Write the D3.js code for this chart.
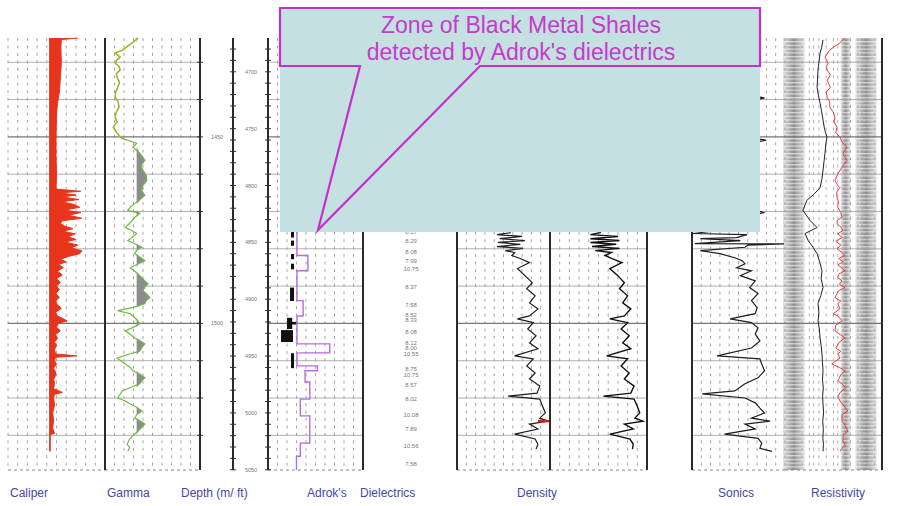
<!DOCTYPE html>
<html>
<head>
<meta charset="utf-8" />
<title>Zone of Black Metal Shales</title>
<style>
  body { margin: 0; background: #fff; }
  svg { display: block; }
  text { font-family: "Liberation Sans", Arial, sans-serif; }
</style>
</head>
<body>
<script src="https://cdnjs.cloudflare.com/ajax/libs/d3/7.8.5/d3.min.js"></script>
<script>
var width = 897,
    height = 506;

// depth range (m)
var depthTop = 1423.5,
    depthBottom = 1539.3;

// caliper (in), [depth m, value]
var bitSize = 8.3;
var caliper = [
  [1423.5, 11.2], [1423.9, 9.5], [1426, 9.45], [1430, 9.5], [1434, 9.4], [1438, 9.3], [1441, 9.1],
  [1444, 9.0], [1450, 8.95], [1455, 8.95], [1460, 9.0], [1464, 8.95], [1464.6, 11.5], [1465.0, 9.4],
  [1465.6, 11.0], [1466.1, 9.6], [1466.8, 11.3], [1467.4, 9.5], [1468.1, 10.8], [1468.9, 11.4],
  [1469.6, 9.8], [1470.3, 11.5], [1471.0, 10.2], [1471.8, 11.6], [1472.5, 9.6], [1473.2, 9.4],
  [1474, 9.9], [1474.6, 10.7], [1475.3, 9.7], [1476, 10.9], [1476.8, 10.2], [1477.5, 11.0],
  [1478.2, 9.9], [1479, 11.2], [1479.8, 10.5], [1480.5, 11.6], [1481.3, 11.4], [1482, 10.3],
  [1482.8, 9.4], [1483.5, 10.0], [1484.3, 9.2], [1485, 9.7], [1486, 9.1], [1487, 9.6], [1488, 9.0],
  [1489, 9.4], [1490, 9.0], [1491, 9.3], [1492, 8.9], [1493, 9.3], [1494, 8.9], [1495, 9.1],
  [1496, 9.5], [1497, 8.9], [1498, 9.1], [1499.3, 10.1], [1500, 9.2], [1501, 9.0], [1502, 9.4],
  [1503, 8.9], [1504, 9.1], [1505, 8.8], [1506, 9.0], [1507, 8.8], [1508.2, 8.9], [1508.7, 11.1],
  [1509.1, 8.9], [1510, 8.8], [1511, 9.0], [1512, 8.7], [1513, 8.9], [1514, 8.9], [1515, 8.7],
  [1516, 8.8], [1517.5, 8.7], [1518.5, 9.6], [1519, 8.8], [1520, 8.7], [1522, 8.8], [1524, 8.6],
  [1526, 8.7], [1528, 8.6], [1529.5, 8.8], [1529.8, 8.35], [1534.3, 8.35]
];

// gamma ray (API)
var gammaCutoff = 50;
var gamma = [
  [1423.5, 52], [1424.8, 43], [1426.7, 28], [1427.5, 16], [1428.6, 24], [1429.4, 19], [1430.2, 16],
  [1431.1, 22], [1432.1, 24], [1433.0, 18], [1434.0, 19], [1435.4, 23], [1436.7, 20], [1438.0, 17],
  [1439.4, 16], [1440.6, 21], [1442.0, 22], [1443.3, 18], [1444.7, 16], [1446.0, 19], [1447.4, 13],
  [1449.0, 19], [1450.4, 27], [1451.7, 50], [1452.8, 44], [1454.4, 55], [1456.3, 63], [1457.7, 57],
  [1459.0, 60], [1460.3, 65], [1461.7, 66], [1463.0, 60], [1464.4, 58], [1465.7, 63], [1467.9, 47],
  [1468.8, 40], [1469.7, 36], [1470.5, 55], [1471.4, 48], [1472.4, 43], [1473.3, 38], [1474.3, 32],
  [1475.1, 42], [1475.9, 50], [1476.8, 44], [1477.8, 36], [1478.7, 48], [1479.6, 58], [1480.4, 50],
  [1481.3, 47], [1482.2, 55], [1483.2, 63], [1484.1, 52], [1485.1, 40], [1486.4, 50], [1487.7, 58],
  [1488.5, 62], [1489.4, 68], [1490.3, 63], [1491.2, 60], [1492.2, 66], [1493.1, 71], [1493.9, 65],
  [1494.7, 63], [1495.7, 45], [1496.6, 20], [1497.4, 40], [1498.5, 47], [1499.3, 52], [1500.1, 55],
  [1501.0, 45], [1502.0, 32], [1503.0, 40], [1503.9, 47], [1504.7, 56], [1505.5, 63], [1506.5, 58],
  [1507.4, 55], [1508.4, 35], [1509.3, 19], [1510.1, 26], [1510.9, 32], [1511.8, 40], [1512.7, 44],
  [1513.7, 56], [1514.6, 63], [1515.4, 58], [1516.2, 55], [1517.2, 40], [1518.1, 27], [1519.0, 24],
  [1520.0, 20], [1520.8, 32], [1521.6, 40], [1522.5, 50], [1523.5, 58], [1524.5, 50], [1525.4, 47],
  [1526.2, 56], [1527.0, 63], [1528.0, 57], [1528.9, 52], [1529.9, 45], [1530.8, 40], [1531.6, 37],
  [1532.4, 35], [1533.3, 39], [1534.3, 36]
];

// depth labels
var metreLabels = [1450, 1500];
var feetLabels = [4700, 4750, 4800, 4850, 4900, 4950, 5000, 5050];

// Adrok dielectric log, step values from each top depth
var adrok = [
  [1470.0, 8.05], [1481.8, 9.2], [1485.9, 8.05], [1493.9, 8.7], [1498.0, 8.05], [1505.5, 11.5],
  [1507.9, 8.05], [1511.4, 10.2], [1512.7, 8.9], [1515.7, 9.4], [1520.3, 8.4], [1524.8, 9.4],
  [1532.1, 8.4], [1535.6, 8.0], [1539.3, 8.0]
];

// black metal shale flags [top, bottom, left value, right value]
var shales = [
  [1475.4, 1477.0, 7.42, 7.74], [1477.8, 1479.2, 7.42, 7.74], [1481.4, 1482.8, 7.42, 7.74],
  [1484.0, 1485.5, 7.42, 7.74], [1490.4, 1494.0, 7.32, 7.74], [1498.5, 1501.5, 7.0, 7.55],
  [1499.6, 1500.3, 7.0, 8.0], [1501.8, 1505.0, 6.37, 7.63], [1508.0, 1512.0, 7.42, 7.74]
];

// dielectric readings
var dielectricDepths = [1475.4, 1477.8, 1480.8, 1483.4, 1485.3, 1490.2, 1495.0, 1497.7, 1499.0, 1502.4,
  1505.2, 1506.6, 1508.2, 1512.2, 1513.8, 1516.5, 1520.3, 1524.6, 1528.3, 1532.9, 1537.7];
var dielectricValues = ["8.17", "8.29", "8.08", "7.99", "10.75", "8.37", "7.58", "8.52", "8.33", "8.08",
  "8.12", "8.00", "10.55", "8.75", "10.75", "8.57", "8.02", "10.08", "7.89", "10.56", "7.58"];

// bulk density (g/cc)
var density = [
  [1473.9, 2.54], [1475.7, 2.52], [1476.2, 2.38], [1476.7, 2.65], [1477.3, 2.41], [1477.8, 2.68],
  [1478.3, 2.39], [1478.8, 2.63], [1479.4, 2.38], [1479.9, 2.66], [1480.5, 2.47], [1481.0, 2.57],
  [1481.8, 2.54], [1482.6, 2.63], [1483.7, 2.73], [1485.3, 2.60], [1487.2, 2.68], [1489.1, 2.76],
  [1490.7, 2.70], [1492.6, 2.79], [1494.5, 2.73], [1496.1, 2.82], [1498.0, 2.73], [1498.8, 2.60],
  [1499.8, 2.77], [1501.5, 2.71], [1503.3, 2.80], [1505.2, 2.73], [1506.8, 2.82], [1508.7, 2.57],
  [1509.5, 2.77], [1511.4, 2.70], [1513.3, 2.79], [1514.9, 2.73], [1516.8, 2.84], [1518.7, 2.81],
  [1519.5, 2.50], [1520.3, 2.84], [1522.2, 2.87], [1524.0, 2.90], [1525.4, 2.84], [1526.2, 2.93],
  [1527.0, 2.73], [1528.3, 2.82], [1529.7, 2.57], [1531.0, 2.79], [1532.4, 2.82], [1533.7, 2.80]
];
var densityFlag = [1526.2, 2.82, 2.96];

// neutron porosity (v/v)
var neutron = [
  [1473.9, 0.26], [1475.7, 0.29], [1476.2, 0.35], [1476.7, 0.18], [1477.3, 0.35], [1477.8, 0.17],
  [1478.3, 0.35], [1478.8, 0.19], [1479.4, 0.34], [1479.9, 0.17], [1480.5, 0.32], [1481.0, 0.22],
  [1481.8, 0.26], [1482.6, 0.22], [1483.7, 0.155], [1485.3, 0.23], [1487.2, 0.18], [1489.1, 0.14],
  [1490.7, 0.17], [1492.6, 0.12], [1494.5, 0.15], [1496.1, 0.10], [1498.0, 0.14], [1498.8, 0.23],
  [1499.8, 0.12], [1501.5, 0.16], [1503.3, 0.11], [1505.2, 0.15], [1506.8, 0.10], [1508.7, 0.25],
  [1509.5, 0.12], [1511.4, 0.16], [1513.3, 0.11], [1514.9, 0.14], [1516.8, 0.08], [1518.7, 0.10],
  [1519.5, 0.27], [1520.3, 0.08], [1522.2, 0.06], [1524.0, 0.045], [1525.4, 0.075], [1526.2, 0.025],
  [1527.0, 0.14], [1528.3, 0.085], [1529.7, 0.23], [1531.0, 0.105], [1532.4, 0.085], [1533.7, 0.09]
];

// sonic (us/ft)
var sonic = [
  [1424.0, 100], [1438.8, 102], [1439.6, 118], [1440.4, 100], [1450.1, 101], [1450.9, 120],
  [1451.7, 102], [1468.9, 100], [1470.3, 117], [1471.6, 98], [1474.3, 97], [1475.9, 41],
  [1476.2, 99], [1477.0, 88], [1477.3, 49], [1477.8, 92], [1478.6, 43], [1478.7, 139], [1479.0, 100],
  [1479.6, 97], [1480.5, 49], [1481.3, 70], [1482.4, 86], [1483.2, 94], [1484.0, 97], [1485.1, 88],
  [1485.9, 104], [1487.2, 92], [1488.6, 108], [1490.4, 102], [1492.0, 111], [1493.9, 104],
  [1495.8, 110], [1497.4, 108], [1498.8, 81], [1499.8, 104], [1501.2, 111], [1502.8, 108],
  [1504.7, 113], [1506.6, 104], [1508.7, 67], [1509.5, 113], [1510.9, 115], [1512.7, 118],
  [1514.6, 111], [1516.2, 97], [1518.1, 86], [1518.9, 51], [1520.0, 97], [1521.3, 108], [1522.7, 113],
  [1524.0, 118], [1525.4, 104], [1526.2, 124], [1527.0, 97], [1528.3, 108], [1529.7, 75],
  [1530.8, 111], [1532.1, 115], [1533.5, 113], [1534.3, 126]
];

// resistivity (ohm.m)
var resDeep = [
  [1424.0, 7.4], [1426, 6.5], [1427.5, 5.6], [1430, 5.0], [1432.1, 4.6], [1434.5, 4.4], [1436.7, 4.2],
  [1439, 4.8], [1441.0, 5.6], [1443, 6.4], [1445.5, 7.4], [1448, 8.6], [1450.1, 10.8], [1452, 9.6],
  [1454.4, 8.9], [1457, 8.0], [1459.0, 7.4], [1461.5, 6.6], [1463.6, 5.6], [1465.5, 3.0], [1467.0, 1.6],
  [1469.7, 1.1], [1472.4, 2.15], [1474.3, 4.2], [1475.9, 1.35], [1477.8, 1.8], [1479.5, 2.8],
  [1481.3, 4.2], [1483.5, 5.4], [1485.9, 6.7], [1488, 6.2], [1490.4, 7.4], [1492.5, 6.0], [1494.7, 4.6],
  [1497, 5.0], [1499.3, 4.6], [1501.5, 5.2], [1503.9, 5.6], [1506, 6.2], [1508.2, 6.7], [1510.5, 7.0],
  [1512.7, 7.4], [1515, 7.0], [1517.3, 7.6], [1519.5, 7.1], [1521.6, 7.4], [1524, 7.8], [1526.2, 7.2],
  [1528.5, 7.6], [1530.8, 7.3], [1532.5, 7.7], [1534.3, 7.4]
];
var resShallow = [
  [1423.5, 59], [1424.8, 37], [1426.7, 14], [1428.6, 9], [1430.2, 12], [1431.2, 10], [1432.1, 11],
  [1433.4, 15], [1434.8, 11], [1436.0, 13], [1436.7, 15], [1438.0, 10], [1439.4, 11], [1440.6, 14],
  [1442.0, 14], [1443.2, 19], [1444.7, 23], [1446.0, 21], [1447.4, 28], [1448.8, 25], [1450.1, 37],
  [1451.4, 45], [1452.8, 72], [1454.4, 49], [1455.5, 60], [1456.3, 72], [1457.6, 52], [1459.0, 37],
  [1460.3, 28], [1461.7, 23], [1463.0, 30], [1463.6, 37], [1464.8, 27], [1466.2, 28], [1467.4, 32],
  [1468.9, 30], [1470.2, 40], [1471.5, 45], [1472.4, 29], [1473.2, 28], [1474.3, 42], [1475.1, 49],
  [1476.0, 30], [1477.0, 45], [1478.0, 25], [1479.0, 40], [1480.0, 28], [1481.0, 45], [1481.8, 59],
  [1482.6, 33], [1483.5, 50], [1484.3, 30], [1485.2, 45], [1485.9, 59], [1486.8, 33], [1487.7, 30],
  [1488.6, 45], [1489.5, 35], [1490.4, 59], [1491.3, 32], [1492.0, 28], [1493.1, 23], [1494.0, 40],
  [1494.7, 30], [1496.1, 37], [1497.4, 19], [1498.0, 30], [1499.3, 45], [1500.5, 25], [1502.0, 23],
  [1503.0, 38], [1503.9, 59], [1505.0, 35], [1506.6, 25], [1507.5, 40], [1508.2, 30], [1509.3, 37],
  [1510.3, 22], [1510.9, 17], [1511.8, 35], [1512.7, 59], [1513.8, 40], [1515.4, 30], [1516.2, 45],
  [1517.3, 65], [1518.3, 40], [1519.5, 30], [1520.8, 37], [1521.8, 50], [1523.5, 78], [1524.5, 45],
  [1526.2, 45], [1527.3, 60], [1528.9, 78], [1530.0, 50], [1531.6, 49], [1532.5, 60], [1533.5, 45],
  [1534.3, 37]
];
var resBands = [[0.16, 1.3], [40, 100], [160, 1200]];

var trackLabels = ["Caliper", "Gamma", "Depth (m/ ft)", "Adrok's", "Dielectrics", "Density", "Sonics", "Resistivity"];
var labelX = [10, 107, 181, 307, 360, 517, 718, 811];

var calloutLines = ["Zone of Black Metal Shales", "detected by Adrok's dielectrics"];

// ---------------------------------------------------------------
var svg = d3.select('body').append('svg')
    .attr('width', width)
    .attr('height', height);

var y = d3.scaleLinear().domain([depthTop, depthBottom]).range([38, 470]);

var calX = d3.scaleLinear().domain([4, 14]).range([8, 105]),
    gamX = d3.scaleLinear().domain([0, 150]).range([105, 200]),
    adrX = d3.scaleLinear().domain([5, 15]).range([268, 363]),
    denX = d3.scaleLinear().domain([1.95, 2.95]).range([457, 550]),
    neuX = d3.scaleLinear().domain([0.6, 0]).range([550, 647]),
    sonX = d3.scaleLinear().domain([40, 140]).range([692, 785]),
    resX = d3.scaleLog().domain([0.2, 2000]).range([785, 882]);

var gridTracks = [calX, gamX, adrX, denX, neuX, sonX];

var defs = svg.append('defs');
var grad = defs.append('linearGradient').attr('id', 'band');
grad.append('stop').attr('offset', '0%').attr('stop-color', '#dedede');
grad.append('stop').attr('offset', '50%').attr('stop-color', '#8e8e8e');
grad.append('stop').attr('offset', '100%').attr('stop-color', '#dedede');
var pat = defs.append('pattern').attr('id', 'ladder')
    .attr('width', 6).attr('height', 3.73).attr('patternUnits', 'userSpaceOnUse');
pat.append('rect').attr('width', 6).attr('height', 1.3).attr('fill', '#fff').attr('opacity', 0.6);

var grid = svg.append('g');

// resistivity shading bands
grid.selectAll('.band')
    .data(resBands)
  .enter().append('g')
    .each(function(b) {
        var g = d3.select(this);
        var x0 = Math.max(resX(b[0]), 783);
        g.append('rect').attr('x', x0).attr('y', y(depthTop))
            .attr('width', resX(b[1]) - x0).attr('height', y(depthBottom) - y(depthTop))
            .attr('fill', 'url(#band)');
        g.append('rect').attr('x', x0).attr('y', y(depthTop))
            .attr('width', resX(b[1]) - x0).attr('height', y(depthBottom) - y(depthTop))
            .attr('fill', 'url(#ladder)');
    });

// vertical dotted grid lines
gridTracks.forEach(function(sc) {
    var r = sc.range();
    d3.range(11).forEach(function(i) {
        var gx = r[0] + i * (r[1] - r[0]) / 10;
        grid.append('line')
            .attr('x1', gx).attr('x2', gx)
            .attr('y1', y(depthTop)).attr('y2', y(depthBottom))
            .attr('stroke', '#9a9a9a').attr('stroke-width', 0.9)
            .attr('stroke-dasharray', '3,4.45');
    });
});
[1, 2, 3, 5, 10, 20, 30, 50, 100, 200, 300, 500, 1000].forEach(function(v) {
    grid.append('line')
        .attr('x1', resX(v)).attr('x2', resX(v))
        .attr('y1', y(depthTop)).attr('y2', y(depthBottom))
        .attr('stroke', '#9a9a9a').attr('stroke-width', 0.8)
        .attr('stroke-dasharray', '3,4.45');
});

// horizontal grid lines every 10 m
var trackSpans = gridTracks.map(function(sc) { return sc.range(); }).concat([resX.range()]);
d3.range(1430, 1540, 10).forEach(function(dm) {
    trackSpans.forEach(function(r) {
        grid.append('line')
            .attr('x1', r[0]).attr('x2', r[1])
            .attr('y1', y(dm)).attr('y2', y(dm))
            .attr('stroke', dm % 50 === 0 ? '#777' : '#a8a8a8')
            .attr('stroke-width', dm % 50 === 0 ? 1.1 : 0.9);
    });
});
// bottom dotted edge
trackSpans.forEach(function(r) {
    grid.append('line')
        .attr('x1', r[0]).attr('x2', r[1])
        .attr('y1', y(depthBottom)).attr('y2', y(depthBottom))
        .attr('stroke', '#888').attr('stroke-dasharray', '3,3');
});

// ---- curves
var marks = svg.append('g');

marks.append('path')
    .datum(caliper)
    .attr('d', d3.area().y(function(d) { return y(d[0]); })
        .x0(calX(bitSize)).x1(function(d) { return calX(d[1]); }))
    .attr('fill', '#e8341c');
marks.append('path')
    .datum(caliper)
    .attr('d', d3.line().y(function(d) { return y(d[0]); }).x(function(d) { return calX(d[1]); }))
    .attr('fill', 'none').attr('stroke', '#e8341c').attr('stroke-width', 1);
marks.append('line')
    .attr('x1', calX(bitSize)).attr('x2', calX(bitSize))
    .attr('y1', y(caliper[0][0])).attr('y2', y(caliper[caliper.length - 1][0]))
    .attr('stroke', '#e8341c').attr('stroke-width', 1.2);

marks.append('path')
    .datum(gamma)
    .attr('d', d3.area().y(function(d) { return y(d[0]); })
        .x0(gamX(gammaCutoff)).x1(function(d) { return gamX(Math.max(gammaCutoff, d[1])); }))
    .attr('fill', '#8c8c8c');
var gammaLine = d3.line().y(function(d) { return y(d[0]); }).x(function(d) { return gamX(d[1]); });
marks.append('path')
    .datum(gamma)
    .attr('d', gammaLine)
    .attr('fill', 'none').attr('stroke', '#72b844').attr('stroke-width', 1.2);
marks.append('path')
    .datum(gamma.filter(function(d) { return d[0] <= 1451; }))
    .attr('d', gammaLine)
    .attr('fill', 'none').attr('stroke', '#a4b526').attr('stroke-width', 1.2);

marks.selectAll('.shale')
    .data(shales)
  .enter().append('rect')
    .attr('x', function(d) { return adrX(d[2]); })
    .attr('y', function(d) { return y(d[0]); })
    .attr('width', function(d) { return adrX(d[3]) - adrX(d[2]); })
    .attr('height', function(d) { return y(d[1]) - y(d[0]); })
    .attr('fill', '#111');
marks.append('path')
    .datum(adrok)
    .attr('d', d3.line().curve(d3.curveStepBefore)
        .y(function(d) { return y(d[0]); }).x(function(d) { return adrX(d[1]); }))
    .attr('fill', 'none').attr('stroke', '#b86ae6').attr('stroke-width', 1.4);

function logLine(data, sc, color, w) {
    marks.append('path')
        .datum(data)
        .attr('d', d3.line().y(function(d) { return y(d[0]); }).x(function(d) { return sc(d[1]); }))
        .attr('fill', 'none').attr('stroke', color).attr('stroke-width', w);
}
logLine(density, denX, '#1e1e1e', 1.2);
logLine(neutron, neuX, '#111', 1.4);
logLine(sonic, sonX, '#1e1e1e', 1.2);
logLine(resDeep, resX, '#222', 1);
logLine(resShallow, resX, '#ee3b3b', 1);

marks.append('line')
    .attr('x1', denX(densityFlag[1])).attr('x2', denX(densityFlag[2]))
    .attr('y1', y(densityFlag[0])).attr('y2', y(densityFlag[0]))
    .attr('stroke', '#d42020').attr('stroke-width', 2.5);

// ---- track borders
var borders = [105, 200, 233, 268, 363, 457, 550, 647, 692, 882];
svg.selectAll('.border')
    .data(borders)
  .enter().append('line')
    .attr('x1', function(d) { return d; }).attr('x2', function(d) { return d; })
    .attr('y1', y(depthTop)).attr('y2', y(depthBottom))
    .attr('stroke', '#2a2a2a').attr('stroke-width', 2);

// depth ticks and labels
var ticks = svg.append('g').attr('stroke', '#333').attr('stroke-width', 1);
d3.range(1430, 1540, 10).forEach(function(dm) {
    ticks.append('line').attr('x1', 197).attr('x2', 203).attr('y1', y(dm)).attr('y2', y(dm));
});
var ftToM = 0.3048;
d3.range(4680, 5060, 10).forEach(function(ft) {
    var yy = y(ft * ftToM);
    if (yy < y(depthTop) || yy > y(depthBottom)) return;
    ticks.append('line').attr('x1', 230).attr('x2', 236).attr('y1', yy).attr('y2', yy);
    ticks.append('line').attr('x1', 265).attr('x2', 271).attr('y1', yy).attr('y2', yy);
});
svg.selectAll('.mlab')
    .data(metreLabels)
  .enter().append('text')
    .attr('x', 217).attr('y', function(d) { return y(d) + 2; })
    .attr('text-anchor', 'middle').attr('font-size', 5.5).attr('fill', '#777')
    .text(function(d) { return d; });
svg.selectAll('.ftlab')
    .data(feetLabels)
  .enter().append('text')
    .attr('x', 251).attr('y', function(d) { return y(d * ftToM) + 2; })
    .attr('text-anchor', 'middle').attr('font-size', 5.5).attr('fill', '#777')
    .text(function(d) { return d; });

svg.selectAll('.diel')
    .data(dielectricDepths)
  .enter().append('text')
    .attr('x', 411).attr('y', function(d) { return y(d) + 2; })
    .attr('text-anchor', 'middle').attr('font-size', 6).attr('fill', '#777')
    .text(function(d, i) { return dielectricValues[i]; });

// ---- callout
var callout = svg.append('g');
callout.append('rect')
    .attr('x', 280).attr('y', 8).attr('width', 480).attr('height', 224)
    .attr('fill', '#c4e0e1');
callout.append('path')
    .attr('d', 'M280,8 H760 V66 H480 L318,230 L360,66 H280 Z')
    .attr('fill', 'none').attr('stroke', '#c52fd0').attr('stroke-width', 2.2)
    .attr('stroke-linejoin', 'miter');
callout.selectAll('.cl')
    .data(calloutLines)
  .enter().append('text')
    .attr('x', 521).attr('y', function(d, i) { return 33 + i * 27; })
    .attr('text-anchor', 'middle').attr('font-size', 23).attr('fill', '#c43ccc')
    .text(function(d) { return d; });

// ---- bottom labels
svg.selectAll('.tl')
    .data(trackLabels)
  .enter().append('text')
    .attr('x', function(d, i) { return labelX[i]; })
    .attr('y', 497)
    .attr('font-size', 12).attr('fill', '#4646a8')
    .text(function(d) { return d; });
</script>
</body>
</html>
